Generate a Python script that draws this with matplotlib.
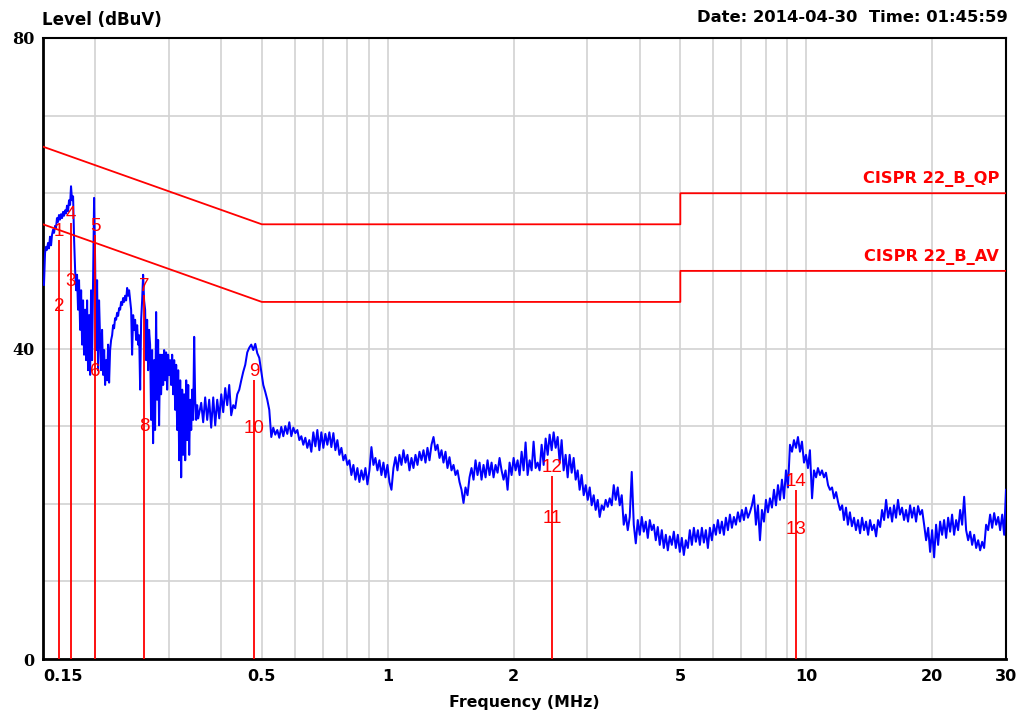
import matplotlib
matplotlib.use("Agg")
import matplotlib.pyplot as plt
from matplotlib.ticker import FixedLocator, NullFormatter

# ---------------- data ----------------
# measured trace, low band (MHz, dBuV)
freq_a = [
    0.1508, 0.1517, 0.1525, 0.1533, 0.1542, 0.1550, 0.1559, 0.1568, 0.1576,
    0.1585, 0.1594, 0.1603, 0.1611, 0.1620, 0.1629, 0.1638, 0.1647, 0.1656, 0.1666,
    0.1675, 0.1684, 0.1694, 0.1703, 0.1712, 0.1722, 0.1731, 0.1741, 0.1750, 0.1760,
    0.1770, 0.1780, 0.1790, 0.1800, 0.1809, 0.1819, 0.1829, 0.1840, 0.1850, 0.1860,
    0.1870, 0.1880, 0.1891, 0.1901, 0.1912, 0.1922, 0.1933, 0.1944, 0.1954, 0.1965,
    0.1976, 0.1987, 0.1998, 0.2009, 0.2020, 0.2031, 0.2042, 0.2054, 0.2065, 0.2076,
    0.2088, 0.2100, 0.2111, 0.2123, 0.2135, 0.2146, 0.2158, 0.2170, 0.2182, 0.2194,
    0.2206, 0.2218, 0.2230, 0.2243, 0.2255, 0.2268, 0.2280, 0.2293, 0.2305, 0.2318,
    0.2331, 0.2344, 0.2357, 0.2370, 0.2383, 0.2396, 0.2409, 0.2423, 0.2436, 0.2449,
    0.2463, 0.2477, 0.2490, 0.2504, 0.2518, 0.2532, 0.2546, 0.2560, 0.2574, 0.2588,
    0.2602, 0.2616, 0.2631, 0.2645, 0.2660, 0.2675, 0.2689, 0.2704, 0.2719, 0.2734,
    0.2749, 0.2764, 0.2779, 0.2795, 0.2810, 0.2826, 0.2841, 0.2857, 0.2873, 0.2889,
    0.2905, 0.2921, 0.2937, 0.2953, 0.2970, 0.2986, 0.3003, 0.3019, 0.3036, 0.3053,
    0.3070, 0.3087, 0.3104, 0.3121, 0.3138, 0.3156, 0.3173, 0.3191, 0.3208, 0.3226,
    0.3244, 0.3262, 0.3280, 0.3298, 0.3316, 0.3335, 0.3353, 0.3372, 0.3390, 0.3409,
    0.3427, 0.3446, 0.3465, 0.3484, 0.3503, 0.3523,
]
level_a = [
    48.2, 52.3, 53.1, 52.7, 53.6, 52.9, 54.4, 53.3, 54.6,
    55.3, 54.9, 55.8, 55.5, 56.8, 56.3, 57.2, 56.6, 57.3, 56.8,
    57.6, 57.1, 57.8, 57.4, 58.4, 57.7, 59.1, 58.5, 60.9, 59.1,
    59.6, 54.0, 50.1, 47.5, 49.5, 45.0, 48.8, 42.4, 47.5, 40.5,
    46.2, 39.2, 45.0, 38.5, 46.2, 37.2, 44.3, 36.6, 47.5, 38.5,
    48.8, 59.4, 51.4, 39.8, 48.8, 37.2, 46.2, 41.1, 37.2, 42.4,
    36.6, 39.8, 35.3, 38.5, 35.9, 40.5, 35.6, 39.8, 41.1, 41.7,
    43.0, 42.6, 43.9, 43.7, 44.6, 44.2, 45.2, 45.0, 46.0, 45.6,
    46.5, 46.0, 46.8, 46.2, 47.8, 46.8, 47.5, 46.2, 45.0, 39.2,
    44.3, 42.4, 43.7, 41.1, 43.0, 40.5, 41.7, 34.7, 43.7, 46.2,
    49.5, 46.2, 45.0, 38.5, 43.7, 37.2, 42.4, 40.5, 30.8, 39.8,
    27.8, 38.5, 29.5, 44.7, 33.4, 41.1, 30.1, 39.2, 34.1, 39.2,
    35.3, 39.8, 35.9, 39.5, 34.7, 39.2, 36.6, 38.5, 35.3, 39.2,
    34.1, 38.5, 32.1, 37.9, 29.5, 37.2, 25.6, 35.9, 23.4, 34.7,
    26.3, 34.1, 25.6, 35.9, 28.2, 35.3, 26.3, 33.4, 29.5, 34.7,
    30.8, 41.5, 33.4, 30.8, 32.7, 31.0,
]

# measured trace, upper band (MHz, dBuV)
freq_b = [
    0.3582, 0.3621, 0.3661, 0.3702, 0.3743, 0.3784, 0.3827, 0.3869, 0.3912, 0.3956,
    0.4000, 0.4043, 0.4088, 0.4133, 0.4179, 0.4225, 0.4272, 0.4319, 0.4367, 0.4416,
    0.4465, 0.4514, 0.4564, 0.4615, 0.4666, 0.4718, 0.4770, 0.4823, 0.4876, 0.4930,
    0.4985, 0.5040, 0.5096, 0.5152, 0.5209, 0.5267, 0.5325, 0.5384, 0.5444, 0.5504,
    0.5565, 0.5627, 0.5689, 0.5752, 0.5816, 0.5881, 0.5946, 0.6012, 0.6079, 0.6146,
    0.6214, 0.6282, 0.6352, 0.6422, 0.6493, 0.6565, 0.6638, 0.6712, 0.6786, 0.6861,
    0.6937, 0.7014, 0.7092, 0.7170, 0.7250, 0.7330, 0.7412, 0.7494, 0.7577, 0.7661,
    0.7746, 0.7831, 0.7918, 0.8006, 0.8094, 0.8184, 0.8275, 0.8367, 0.8459, 0.8553,
    0.8648, 0.8744, 0.8841, 0.8939, 0.9038, 0.9138, 0.9239, 0.9341, 0.9445, 0.9549,
    0.9655, 0.9762, 0.9870, 0.9980, 1.0090, 1.0202, 1.0315, 1.0429, 1.0545, 1.0662,
    1.0780, 1.0899, 1.1020, 1.1142, 1.1265, 1.1391, 1.1516, 1.1644, 1.1773, 1.1903,
    1.2035, 1.2168, 1.2303, 1.2439, 1.2577, 1.2717, 1.2858, 1.3000, 1.3145, 1.3290,
    1.3438, 1.3584, 1.3735, 1.3887, 1.4040, 1.4197, 1.4354, 1.4513, 1.4674, 1.4836,
    1.5001, 1.5166, 1.5334, 1.5504, 1.5676, 1.5850, 1.6025, 1.6203, 1.6382, 1.6564,
    1.6748, 1.6933, 1.7121, 1.7311, 1.7502, 1.7697, 1.7892, 1.8090, 1.8291, 1.8493,
    1.8699, 1.8905, 1.9114, 1.9327, 1.9540, 1.9758, 1.998, 2.020, 2.042, 2.065,
    2.088, 2.111, 2.134, 2.158, 2.182, 2.206, 2.230, 2.255, 2.280, 2.305,
    2.331, 2.357, 2.383, 2.410, 2.436, 2.463, 2.490, 2.518, 2.546, 2.574,
    2.602, 2.631, 2.660, 2.690, 2.719, 2.750, 2.780, 2.811, 2.842, 2.873,
    2.905, 2.938, 2.971, 3.004, 3.037, 3.070, 3.104, 3.138, 3.173, 3.208,
    3.244, 3.280, 3.316, 3.353, 3.390, 3.428, 3.466, 3.504, 3.543, 3.582,
    3.622, 3.662, 3.703, 3.744, 3.785, 3.827, 3.870, 3.913, 3.956, 4.000,
    4.044, 4.089, 4.134, 4.180, 4.226, 4.273, 4.320, 4.368, 4.416, 4.465,
    4.515, 4.565, 4.616, 4.667, 4.718, 4.771, 4.824, 4.877, 4.931, 4.986,
    5.041, 5.097, 5.153, 5.211, 5.268, 5.327, 5.386, 5.446, 5.506, 5.567,
    5.629, 5.691, 5.754, 5.818, 5.882, 5.948, 6.013, 6.080, 6.147, 6.215,
    6.284, 6.354, 6.424, 6.496, 6.568, 6.640, 6.714, 6.788, 6.864, 6.940,
    7.017, 7.094, 7.173, 7.252, 7.332, 7.414, 7.496, 7.579, 7.663, 7.748,
    7.834, 7.920, 8.008, 8.097, 8.186, 8.277, 8.369, 8.462, 8.556, 8.650,
    8.746, 8.843, 8.941, 9.040, 9.140, 9.242, 9.342, 9.446, 9.550, 9.656,
    9.763, 9.873, 9.982, 10.09, 10.20, 10.32, 10.43, 10.55, 10.66, 10.78,
    10.90, 11.02, 11.14, 11.27, 11.39, 11.52, 11.65, 11.78, 11.91, 12.04,
    12.18, 12.30, 12.44, 12.57, 12.71, 12.85, 13.00, 13.14, 13.29, 13.44,
    13.59, 13.74, 13.89, 14.05, 14.20, 14.36, 14.52, 14.68, 14.84, 15.01,
    15.17, 15.34, 15.51, 15.68, 15.86, 16.03, 16.20, 16.38, 16.56, 16.74,
    16.93, 17.12, 17.31, 17.50, 17.70, 17.89, 18.09, 18.29, 18.49, 18.70,
    18.91, 19.12, 19.33, 19.55, 19.76, 19.98, 20.20, 20.42, 20.65, 20.88,
    21.11, 21.34, 21.58, 21.82, 22.06, 22.30, 22.55, 22.80, 23.05, 23.31,
    23.57, 23.83, 24.09, 24.36, 24.63, 24.90, 25.18, 25.46, 25.74, 26.02,
    26.31, 26.60, 26.89, 27.19, 27.49, 27.80, 28.11, 28.42, 28.74, 29.05,
    29.38, 29.70, 30.00,
]
level_b = [
    33.0, 30.5, 33.7, 30.8, 33.4, 29.8, 33.7, 30.1, 33.4, 31.0,
    34.1, 31.8, 34.9, 32.7, 35.3, 31.4, 32.7, 32.3, 34.1, 34.7,
    35.9, 37.0, 37.9, 39.5, 40.1, 40.5, 39.8, 40.6, 39.4, 38.8,
    37.0, 35.3, 34.4, 33.4, 32.1, 28.6, 29.8, 28.9, 29.5, 28.5,
    29.9, 28.7, 30.0, 29.0, 30.5, 28.7, 29.8, 29.1, 29.5, 28.2,
    28.7, 27.6, 28.5, 27.2, 28.2, 26.7, 29.2, 27.4, 29.5, 26.9,
    29.2, 27.2, 29.0, 27.6, 29.2, 27.3, 29.1, 26.9, 28.2, 26.3,
    27.2, 25.6, 26.3, 25.0, 25.6, 23.7, 25.0, 23.1, 24.6, 22.8,
    24.3, 23.1, 24.6, 22.5, 24.3, 27.3, 25.0, 25.9, 24.3, 25.6,
    23.7, 25.3, 23.4, 25.0, 22.8, 21.8, 24.6, 26.0, 24.3, 26.3,
    25.0, 26.9, 25.3, 26.3, 24.3, 25.9, 24.6, 26.3, 25.0, 26.7,
    25.6, 26.9, 25.3, 27.2, 25.6, 27.6, 28.6, 26.9, 27.6, 25.9,
    26.9, 25.3, 26.7, 24.6, 26.0, 24.3, 25.0, 23.7, 24.3, 22.8,
    21.8, 20.1, 22.1, 21.1, 23.4, 24.6, 23.1, 25.6, 23.7, 25.3,
    23.1, 25.0, 23.4, 25.6, 23.7, 25.3, 23.4, 25.0, 24.0, 25.9,
    24.3, 23.1, 24.3, 21.8, 25.3, 23.7, 25.9, 24.3, 25.6, 23.7,
    26.7, 24.3, 27.9, 23.7, 25.6, 24.3, 28.0, 24.6, 25.3, 24.3,
    27.6, 25.0, 28.4, 26.3, 28.9, 26.9, 29.2, 27.2, 28.6, 25.3,
    28.2, 24.3, 26.3, 23.4, 26.3, 24.0, 25.9, 23.1, 24.3, 21.8,
    23.7, 21.1, 22.4, 20.5, 22.1, 19.8, 21.1, 19.2, 20.5, 18.3,
    19.8, 19.2, 20.5, 19.6, 20.7, 19.8, 22.4, 20.5, 22.1, 19.8,
    21.1, 17.3, 18.6, 16.6, 18.3, 24.1, 17.3, 14.9, 17.9, 16.0,
    18.3, 16.4, 17.7, 15.6, 17.9, 16.6, 17.3, 15.3, 17.0, 14.7,
    16.6, 14.3, 16.0, 14.0, 15.8, 14.7, 16.4, 14.3, 16.0, 13.8,
    15.6, 13.4, 15.3, 14.3, 16.6, 14.7, 16.9, 15.1, 16.6, 14.7,
    16.9, 15.0, 16.6, 14.3, 16.9, 15.3, 17.3, 16.0, 17.9, 16.2,
    17.7, 16.0, 18.2, 16.6, 18.6, 16.9, 18.3, 17.3, 18.9, 17.7,
    19.2, 17.9, 19.5, 18.2, 18.9, 19.8, 21.1, 17.3, 19.8, 15.3,
    19.2, 17.7, 20.5, 18.9, 20.7, 19.5, 21.8, 19.8, 22.4, 20.5,
    23.1, 20.7, 24.3, 22.1, 27.6, 26.7, 28.2, 27.2, 28.6, 26.7,
    28.0, 25.3, 26.3, 24.6, 26.9, 20.7, 24.3, 23.4, 24.6, 23.7,
    24.3, 23.4, 24.0, 22.4, 21.8, 22.1, 20.7, 21.5, 20.2, 19.2,
    19.8, 17.9, 19.5, 17.3, 18.9, 17.1, 18.2, 16.6, 17.9, 16.2,
    18.2, 16.6, 17.7, 16.0, 17.9, 16.6, 17.3, 15.8, 17.9, 17.0,
    19.2, 17.9, 20.5, 18.2, 19.5, 17.7, 19.8, 18.2, 20.5, 18.6,
    19.5, 17.9, 19.2, 17.7, 19.8, 18.2, 19.5, 17.7, 19.7, 18.6,
    19.2, 17.3, 15.3, 16.9, 13.8, 16.6, 13.1, 17.3, 14.7, 17.7,
    16.0, 17.9, 15.6, 18.2, 16.4, 18.6, 16.0, 17.9, 16.6, 19.2,
    17.3, 20.9, 16.6, 15.3, 16.4, 14.7, 16.0, 14.3, 15.3, 14.0,
    15.1, 14.3, 17.3, 16.6, 18.6, 16.9, 18.8, 17.3, 18.3, 16.6,
    18.6, 16.0, 21.8,
]

# limit lines
limit_freq = [0.15, 0.5, 5.0, 5.0, 30.0]
qp_limit = [66, 56, 56, 60, 60]
av_limit = [56, 46, 46, 50, 50]
qp_name = "CISPR 22_B_QP"
av_name = "CISPR 22_B_AV"

# markers
marker_ids = ["1", "2", "3", "4", "5", "6", "7", "8", "9", "10", "11", "12", "13", "14"]
marker_freq = [0.1638, 0.1638, 0.1750, 0.1750, 0.1998, 0.1998, 0.2616, 0.2616,
               0.4796, 0.4796, 2.470, 2.470, 9.47, 9.47]
marker_level = [54.0, 44.3, 47.5, 56.2, 54.6, 35.9, 46.9, 28.9,
                36.0, 28.6, 17.0, 23.6, 15.6, 21.8]

# axes ticks
x_tick_values = [0.15, 0.5, 1, 2, 5, 10, 20, 30]
x_tick_labels = ["0.15", "0.5", "1", "2", "5", "10", "20", "30"]
x_grid_values = [0.2, 0.3, 0.4, 0.6, 0.7, 0.8, 0.9, 3, 4, 6, 7, 8, 9]
y_tick_values = [0, 40, 80]
y_tick_labels = ["0", "40", "80"]
y_grid_values = [10, 20, 30, 50, 60, 70]

title_left = "Level (dBuV)"
title_right = "Date: 2014-04-30  Time: 01:45:59"
x_label = "Frequency (MHz)"

# ---------------- figure ----------------
W, H = 1029, 715
fig = plt.figure(figsize=(W / 100, H / 100), dpi=100)
ax = fig.add_axes([43 / W, 1 - 659 / H, (1006 - 43) / W, (659 - 38) / H])
ax.set_xscale("log")
ax.set_xlim(0.15, 30)
ax.set_ylim(0, 80)

ax.xaxis.set_major_locator(FixedLocator(x_tick_values))
ax.xaxis.set_minor_locator(FixedLocator(x_grid_values))
ax.xaxis.set_minor_formatter(NullFormatter())
ax.set_xticklabels(x_tick_labels)
ax.yaxis.set_major_locator(FixedLocator(y_tick_values))
ax.yaxis.set_minor_locator(FixedLocator(y_grid_values))
ax.yaxis.set_minor_formatter(NullFormatter())
ax.set_yticklabels(y_tick_labels)

ax.grid(True, which="both", color="#d2d2d2", lw=1.2, zorder=0)
ax.set_axisbelow(True)
ax.tick_params(which="both", length=0)
ax.tick_params(axis="x", pad=7)
ax.tick_params(axis="y", pad=6)
for lab in ax.get_xticklabels():
    lab.set_fontweight("bold")
    lab.set_fontsize(11.5)
ax.get_xticklabels()[0].set_horizontalalignment("left")
for lab in ax.get_yticklabels():
    lab.set_fontfamily("DejaVu Serif")
    lab.set_fontweight("bold")
    lab.set_fontsize(11.5)

for sp in ax.spines.values():
    sp.set_color("black")
    sp.set_linewidth(1.5)
ax.spines["left"].set_linewidth(2)
ax.spines["bottom"].set_linewidth(2)

# trace
ax.plot(freq_a + freq_b, level_a + level_b, color="#0000ff", lw=1.45, zorder=3)

# limits
ax.plot(limit_freq, qp_limit, color="#ff0000", lw=1.3, zorder=4)
ax.plot(limit_freq, av_limit, color="#ff0000", lw=1.3, zorder=4)
ax.text(28.9, qp_limit[-1] + 0.8, qp_name, color="#ff0000", fontsize=11.7,
        fontweight="bold", ha="right", va="bottom", zorder=5)
ax.text(28.9, av_limit[-1] + 0.8, av_name, color="#ff0000", fontsize=11.7,
        fontweight="bold", ha="right", va="bottom", zorder=5)

# markers
for i in range(0, len(marker_ids), 2):
    top = max(marker_level[i], marker_level[i + 1])
    ax.vlines(marker_freq[i], 0, top, color="#ff0000", lw=1.3, zorder=5)
for mid, mf, ml in zip(marker_ids, marker_freq, marker_level):
    ax.text(mf, ml, mid, color="#ff0000", fontsize=13.5, family="Liberation Sans",
            ha="center", va="bottom", zorder=6)

# titles
fig.text(42 / W, 1 - 20 / H, title_left, fontsize=12, fontweight="bold",
         ha="left", va="center")
fig.text(1008 / W, 1 - 18 / H, title_right, fontsize=11.8, fontweight="bold",
         ha="right", va="center")
fig.text(524 / W, 1 - 702 / H, x_label, fontsize=11.3, fontweight="bold",
         ha="center", va="center")

fig.savefig("out.png", dpi=100)
